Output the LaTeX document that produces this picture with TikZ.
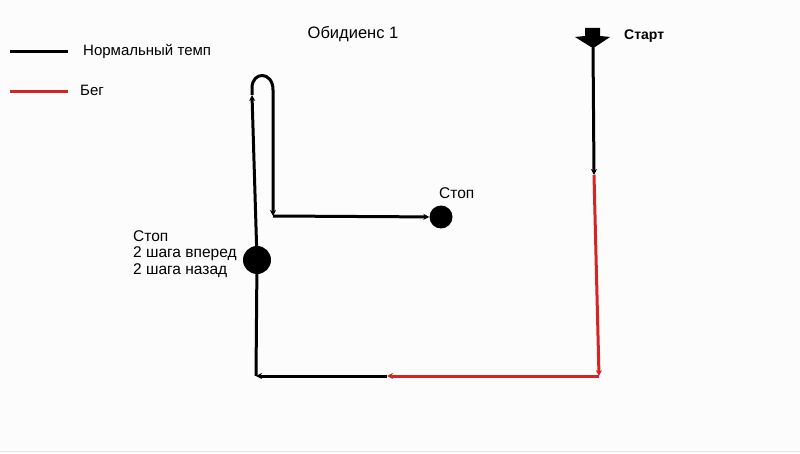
\documentclass[tikz,border=0pt]{standalone}
\usepackage{fontspec}
\setmainfont{Liberation Sans}
\usetikzlibrary{arrows.meta}
\definecolor{runred}{RGB}{212,36,36}
\begin{document}
\begin{tikzpicture}[x=1pt,y=-1pt]
    \tikzstyle{every node}+=[inner sep=0pt, font=\fontsize{15.5}{16.5}\selectfont]
    \tikzstyle{walk}=[black, line width=3pt, -{Stealth[length=6pt,width=6pt]}]
    \tikzstyle{walkplain}=[black, line width=3pt]
    \tikzstyle{run}=[runred, line width=3pt, -{Stealth[length=6pt,width=6pt]}]
    \tikzstyle{stopdot}=[circle, fill=black, draw=none]
    \fill [black!1] (0,0) rectangle (800,454);
    \useasboundingbox (0,0) rectangle (800,454);
    \draw [black!10, line width=1pt] (0,451) -- (800,451);
    \node [font=\fontsize{16.5}{18}\selectfont] (title) at (353,34) {Обидиенс 1};
    \coordinate (legwalkA) at (10,52);
    \coordinate (legwalkB) at (68,52);
    \coordinate (legrunA) at (10,92);
    \coordinate (legrunB) at (68,92);
    \draw [walkplain] (legwalkA) -- (legwalkB);
    \draw [runred, line width=3pt] (legrunA) -- (legrunB);
    \node [anchor=west, font=\fontsize{15}{16.5}\selectfont] (legwalk) at (83,51) {Нормальный темп};
    \node [anchor=west, font=\fontsize{15}{16.5}\selectfont] (legrun) at (80,90) {Бег};
    \fill [black] (585,28) -- (600,28) -- (600,36) -- (610,37) -- (595,47) -- (591,47) -- (575,37) -- (585,36) -- cycle;
    \coordinate (start) at (593,46);
    \node [anchor=west, font=\fontsize{14}{16.5}\selectfont\bfseries] (startlabel) at (624,36) {Старт};
    \coordinate (runbegin) at (594,175);
    \coordinate (corner) at (599,376);
    \coordinate (runend) at (387,376);
    \coordinate (back) at (256,376);
    \node [stopdot, minimum size=28pt] (stopA) at (257,260) {};
    \node [anchor=north west, align=left] (stopAlabel) at (133,230) {Стоп\\2 шага вперед\\2 шага назад};
    \coordinate (loopL) at (252,95);
    \coordinate (loopR) at (273,90);
    \coordinate (turn) at (273,216);
    \node [stopdot, minimum size=23pt] (stopB) at (441,217) {};
    \node [anchor=west] (stopBlabel) at (439,193) {Стоп};
    \draw [walk] (start) -- (runbegin);
    \draw [run] (runbegin) -- (corner);
    \draw [run] (corner) -- (runend);
    \draw [walk] (runend) -- (back);
    \draw [walkplain] (back) -- (stopA);
    \draw [walk] (stopA) -- (loopL);
    \draw [walk] (loopL) -- (252,88) .. controls (252,71) and (273,71) .. (loopR) -- (turn);
    \draw [walk] (turn) -- (stopB);
\end{tikzpicture}
\end{document}
